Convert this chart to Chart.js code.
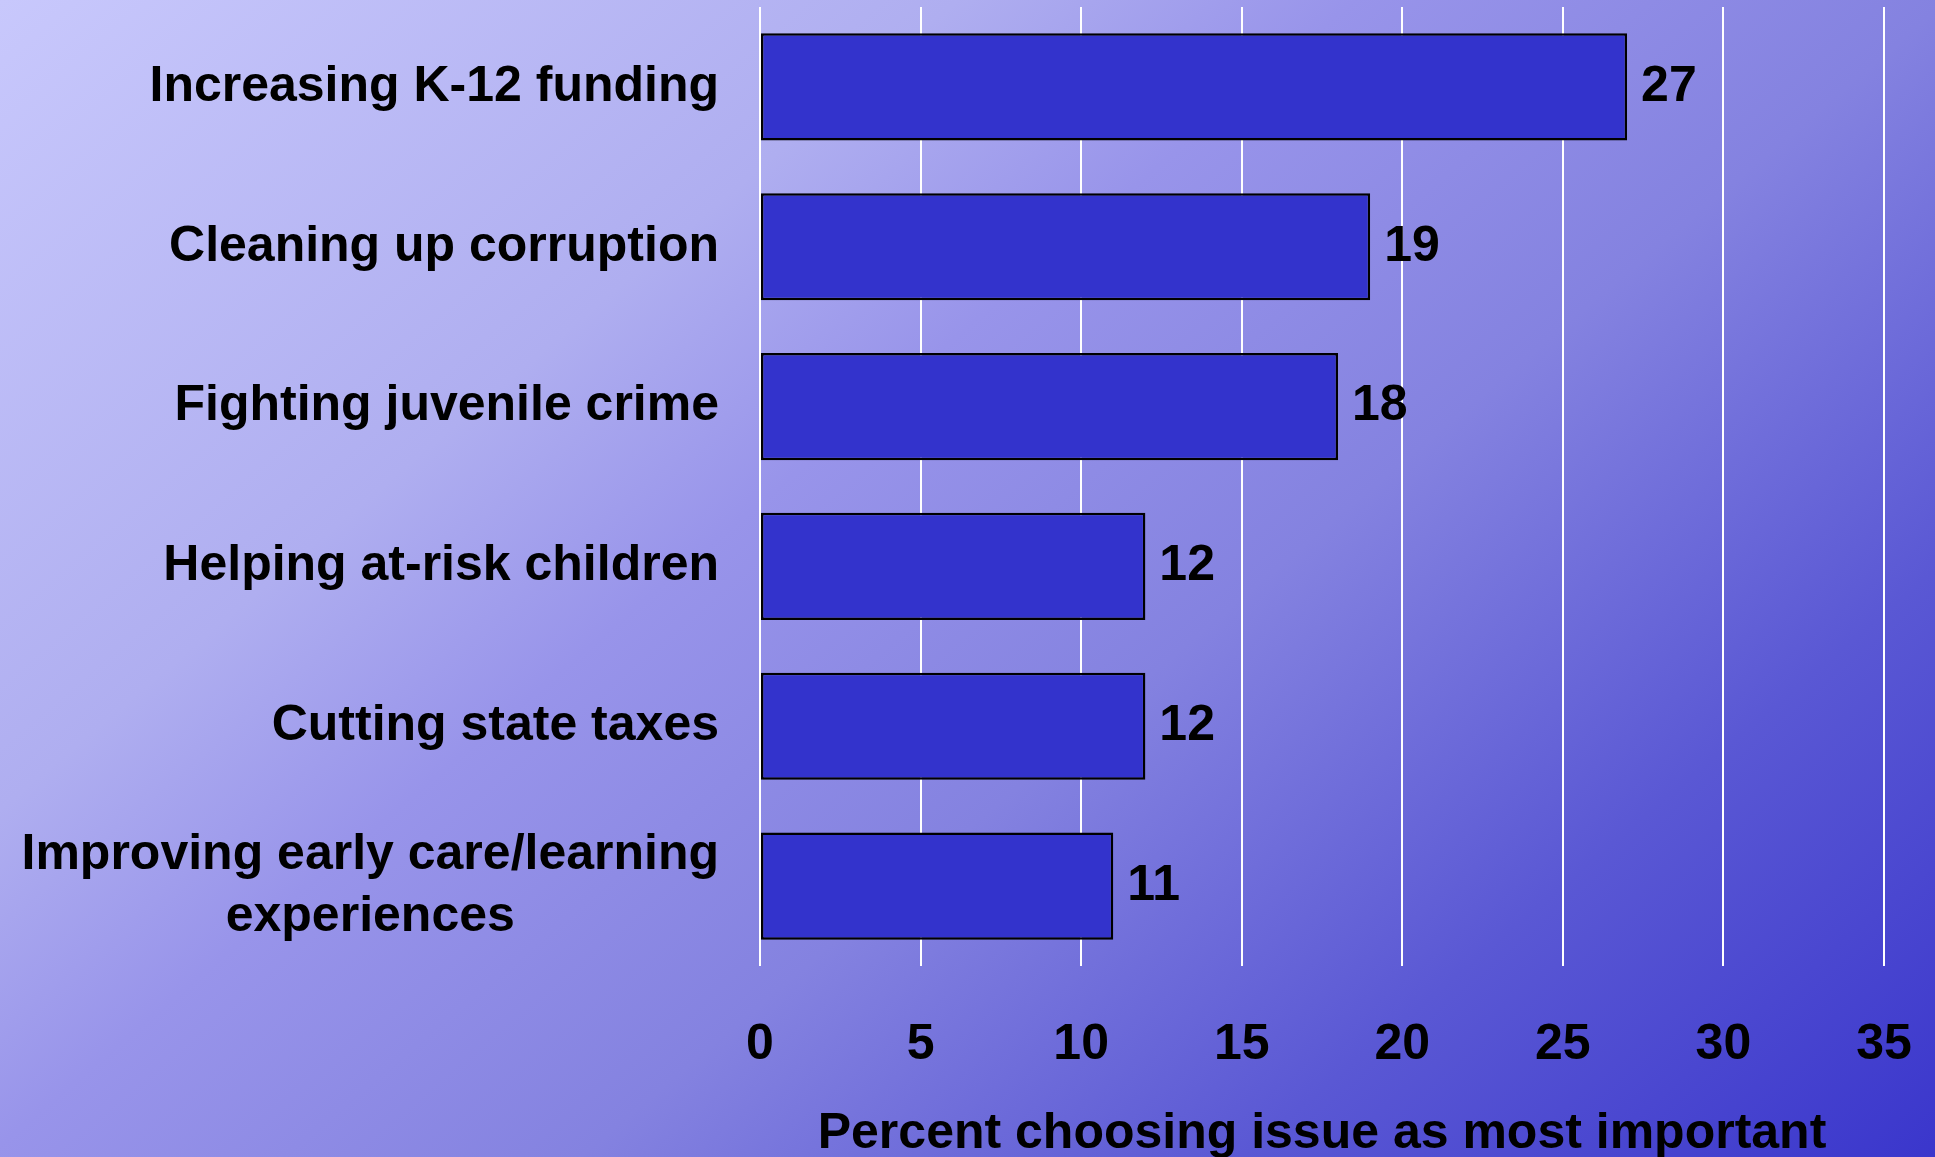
<!DOCTYPE html>
<html>
<head>
<meta charset="utf-8">
<script src="https://cdn.jsdelivr.net/npm/chart.js@4.4.1/dist/chart.umd.min.js"></script>
<style>
html,body{margin:0;padding:0;overflow:hidden;width:1935px;height:1157px;}
body{background:linear-gradient(139.8deg,#c8c8fc 0%,#afaef0 29%,#9894ea 41%,#8482e0 59%,#5a58d4 79%,#3a36cc 100%);}
#wrap{position:absolute;left:0;top:0;width:1935px;height:1172px;}
</style>
</head>
<body>
<div id="wrap"><canvas id="c" width="1935" height="1172"></canvas></div>
<script>
const categories = [
  ["Increasing K-12 funding"],
  ["Cleaning up corruption"],
  ["Fighting juvenile crime"],
  ["Helping at-risk children"],
  ["Cutting state taxes"],
  ["Improving early care/learning", "experiences"]
];
const values = [27, 19, 18, 12, 12, 11];
const xTicks = [0, 5, 10, 15, 20, 25, 30, 35];
const xTitle = "Percent choosing issue as most important";

const FONT = "'Liberation Sans', Arial, sans-serif";

const labelPlugin = {
  id: 'labels',
  afterDatasetsDraw(chart) {
    const ctx = chart.ctx;
    const y = chart.scales.y;
    const meta = chart.getDatasetMeta(0);
    ctx.save();
    ctx.font = "bold 50px " + FONT;
    ctx.fillStyle = "#000";
    ctx.textBaseline = "middle";
    meta.data.forEach((bar, i) => {
      ctx.textAlign = "left";
      ctx.fillText(String(values[i]), bar.x + 14, bar.y);
    });
    const rightX = chart.chartArea.left - 41;
    categories.forEach((lines, i) => {
      const cy = y.getPixelForValue(i);
      const lh = 62;
      if (lines.length === 1) {
        ctx.textAlign = "right";
        ctx.fillText(lines[0], rightX, cy);
      } else {
        const w = Math.max(...lines.map(l => ctx.measureText(l).width));
        const cx = rightX - w / 2;
        ctx.textAlign = "center";
        lines.forEach((l, k) => {
          ctx.fillText(l, cx, cy + (k - (lines.length - 1) / 2) * lh);
        });
      }
    });
    ctx.restore();
  }
};

new Chart(document.getElementById('c'), {
  type: 'bar',
  data: {
    labels: categories.map(c => c.join(' ')),
    datasets: [{
      data: values,
      backgroundColor: '#3333CC',
      borderColor: '#000000',
      borderWidth: 2.5,
      borderSkipped: false,
      categoryPercentage: 1,
      barPercentage: 0.67
    }]
  },
  options: {
    indexAxis: 'y',
    responsive: false,
    animation: false,
    events: [],
    layout: { padding: { left: 760, right: 51, top: 7, bottom: 0 } },
    plugins: { legend: { display: false }, tooltip: { enabled: false } },
    scales: {
      x: {
        min: 0, max: 35,
        afterBuildTicks(s) { s.ticks = xTicks.map(v => ({ value: v })); },
        afterFit(s) { s.paddingLeft = 0; s.paddingRight = 0; s.height = 206; },
        grid: { color: '#ffffff', lineWidth: 2, drawTicks: false },
        border: { display: false },
        ticks: {
          color: '#000',
          font: { family: FONT, size: 50, weight: 'bold', lineHeight: 1.2 },
          padding: 49,
          maxRotation: 0
        },
        title: {
          display: true,
          text: xTitle,
          color: '#000',
          font: { family: FONT, size: 50, weight: 'bold', lineHeight: 1.2 },
          padding: { top: 20, bottom: 8 }
        }
      },
      y: {
        afterFit(s) { s.width = 0; s.paddingTop = 0; s.paddingBottom = 0; },
        grid: { display: false },
        border: { display: false },
        ticks: { display: false }
      }
    }
  },
  plugins: [labelPlugin]
});
</script>
</body>
</html>
